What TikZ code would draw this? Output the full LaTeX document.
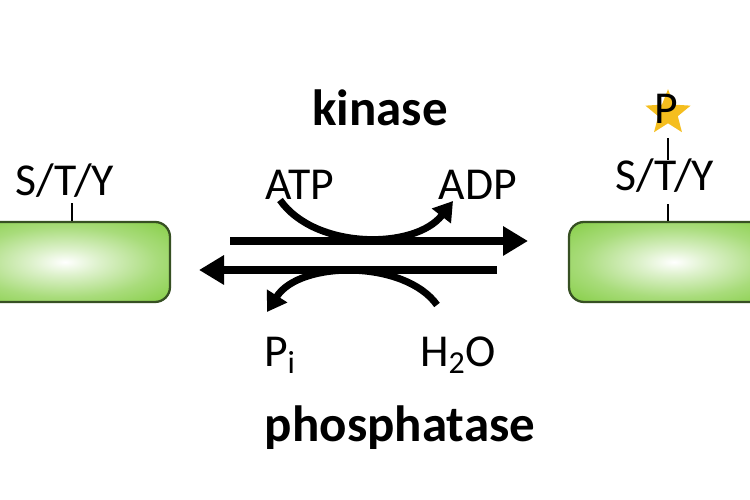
\documentclass[tikz,border=0pt]{standalone}
\usepackage{fontspec}
\setmainfont{Carlito}
\usetikzlibrary{arrows.meta,shapes.geometric}

\definecolor{protgreen}{RGB}{122,201,52}
\definecolor{protedge}{RGB}{55,80,35}
\definecolor{stargold}{RGB}{245,190,30}

\pgfdeclareradialshading{glow}{\pgfpoint{0bp}{0bp}}{%
  color(0bp)=(white); color(8bp)=(white!75!protgreen);
  color(22bp)=(white!35!protgreen); color(40bp)=(protgreen);
  color(50bp)=(protgreen)}

\tikzset{
  protein/.style={draw=protedge, line width=1.3pt, rounded corners=0.3cm,
    shading=glow, minimum width=4.2cm, minimum height=1.6cm},
  residue/.style={font=\fontsize{26}{30}\selectfont},
  enzyme/.style={font=\fontsize{29}{33}\selectfont\bfseries},
  reagent/.style={font=\fontsize{26}{30}\selectfont},
  mainrx/.style={line width=4.5pt, -{Triangle[length=5mm,width=5.6mm]}},
  siderx/.style={line width=4pt, -{Triangle[length=3.8mm,width=4.6mm]}},
}

\begin{document}
\begin{tikzpicture}
	\useasboundingbox (0,0) rectangle (15,10);
	\clip (0,0) rectangle (15,10);
	% substrate / product
	\node[protein] (left) at (1.3,4.76) {};
	\node[protein] (right) at (13.48,4.76) {};
	\node[residue] (lres) at (1.3,6.38) {S/T/Y};
	\node[residue] (rres) at (13.3,6.48) {S/T/Y};
	\draw[line width=1pt] (left.north -| 1.44,0) -- (1.44,5.94);
	\draw[line width=1pt] (right.north -| 13.36,0) -- (13.36,5.92);
	\draw[line width=1pt] (13.36,6.8) -- (13.36,7.24);
	\node[star, star points=5, star point ratio=2.3, fill=stargold, minimum size=0.95cm, inner sep=0pt] (phos) at (13.36,7.74) {};
	\node[residue] (plabel) at (13.32,7.82) {P};
	% enzymes
	\node[enzyme] (kin) at (7.6,7.84) {kinase};
	\node[enzyme] (ptase) at (8.0,1.44) {phosphatase};
	\node[reagent] (atp) at (6.0,6.3) {ATP};
	\node[reagent] (adp) at (9.56,6.3) {ADP};
	\node[reagent] (pi) at (5.6,2.9) {P\textsubscript{i}};
	\node[reagent] (water) at (9.16,2.9) {H\textsubscript{2}O};
	% reactions
	\coordinate (fwdA) at (4.6,5.18);
	\coordinate (fwdB) at (10.56,5.18);
	\coordinate (bckA) at (9.94,4.6);
	\coordinate (bckB) at (3.98,4.6);
	\draw[mainrx] (fwdA) -- (fwdB);
	\draw[mainrx] (bckA) -- (bckB);
	\draw[siderx] (5.6,6.0) .. controls (6.3,5.0) and (8.3,5.0) .. (9.06,5.98);
	\draw[siderx] (8.74,3.9) .. controls (8.1,4.8) and (6.0,4.8) .. (5.34,3.76);
\end{tikzpicture}
\end{document}
